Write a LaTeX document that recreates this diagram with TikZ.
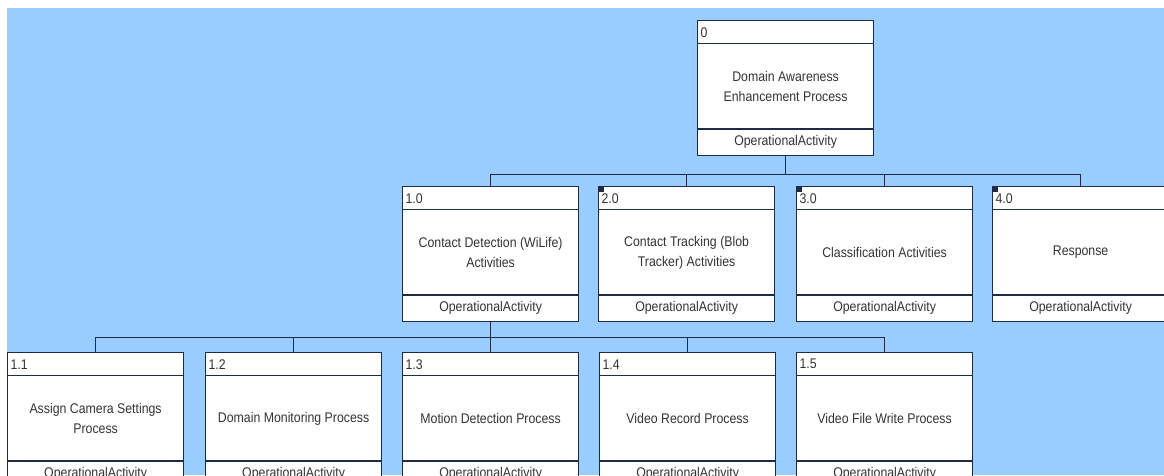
\documentclass[tikz,border=0pt]{standalone}
\usepackage{fontspec}
\setmainfont{Liberation Sans}[FakeStretch=0.88]
\usetikzlibrary{shapes.multipart}
\definecolor{bgblue}{RGB}{153,204,255}
\definecolor{linec}{RGB}{30,42,70}
\newcommand{\boxnum}[1]{\parbox[c][22pt][c]{176pt}{\hspace*{3pt}#1}}
\newcommand{\boxtext}[1]{\parbox[c][84pt][c]{176pt}{\centering #1}}
\newcommand{\boxtype}{\parbox[c][25pt][c]{176pt}{\centering OperationalActivity}}
\begin{document}
\begin{tikzpicture}[
    x=1pt, y=-1pt,
    actbox/.style={rectangle split, rectangle split parts=3, draw=linec, fill=white, line width=1.2pt, inner sep=0pt, anchor=north west, text=black!80, font=\fontsize{14}{20}\selectfont},
    flag/.style={rectangle, fill=linec, inner sep=0pt, minimum size=5pt, anchor=north west, xshift=1pt, yshift=-1pt},
    link/.style={draw=linec, line width=1.2pt},
]
\useasboundingbox (0,0) rectangle (1164,475);
\fill[white] (0,0) rectangle (1164,475);
\fill[bgblue] (7,8) rectangle (1164,475);

\node[actbox] (A0) at (697,20) {\boxnum{0}\nodepart{two}\boxtext{Domain Awareness\\Enhancement Process}\nodepart{three}\boxtype};

\node[actbox] (A1) at (402,186) {\boxnum{1.0}\nodepart{two}\boxtext{Contact Detection (WiLife)\\Activities}\nodepart{three}\boxtype};
\node[actbox] (A2) at (598,186) {\boxnum{2.0}\nodepart{two}\boxtext{Contact Tracking (Blob\\Tracker) Activities}\nodepart{three}\boxtype};
\node[actbox] (A3) at (796,186) {\boxnum{3.0}\nodepart{two}\boxtext{Classification Activities}\nodepart{three}\boxtype};
\node[actbox] (A4) at (992,186) {\boxnum{4.0}\nodepart{two}\boxtext{Response}\nodepart{three}\boxtype};
\node[flag] (F2) at (A2.north west) {};
\node[flag] (F3) at (A3.north west) {};
\node[flag] (F4) at (A4.north west) {};

\node[actbox] (B1) at (7,352) {\boxnum{1.1}\nodepart{two}\boxtext{Assign Camera Settings\\Process}\nodepart{three}\boxtype};
\node[actbox] (B2) at (205,352) {\boxnum{1.2}\nodepart{two}\boxtext{Domain Monitoring Process}\nodepart{three}\boxtype};
\node[actbox] (B3) at (402,352) {\boxnum{1.3}\nodepart{two}\boxtext{Motion Detection Process}\nodepart{three}\boxtype};
\node[actbox] (B4) at (599,352) {\boxnum{1.4}\nodepart{two}\boxtext{Video Record Process}\nodepart{three}\boxtype};
\node[actbox] (B5) at (796,352) {\boxnum{1.5}\nodepart{two}\boxtext{Video File Write Process}\nodepart{three}\boxtype};

\draw[link] (A0.south) -- ++(0,19) -| (A1.north);
\draw[link] (A0.south) -- ++(0,19) -| (A2.north);
\draw[link] (A0.south) -- ++(0,19) -| (A3.north);
\draw[link] (A0.south) -- ++(0,19) -| (A4.north);

\draw[link] (A1.south) -- ++(0,16) -| (B1.north);
\draw[link] (A1.south) -- ++(0,16) -| (B2.north);
\draw[link] (A1.south) -- ++(0,16) -| (B3.north);
\draw[link] (A1.south) -- ++(0,16) -| (B4.north);
\draw[link] (A1.south) -- ++(0,16) -| (B5.north);
\end{tikzpicture}
\end{document}
